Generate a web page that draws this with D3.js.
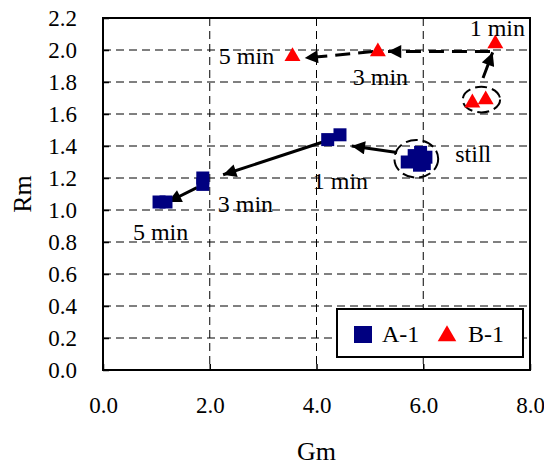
<!DOCTYPE html>
<html><head><meta charset="utf-8">
<script src="https://cdn.jsdelivr.net/npm/d3@7"></script>
<style>body{margin:0;background:#fff}svg{display:block}text{font-family:"Liberation Serif","Times New Roman",serif;fill:#000}</style>
</head><body>
<script>
// Data
const aGm = [1.05, 1.18, 1.87, 1.87, 4.21, 4.44, 5.70, 5.83, 5.95, 6.05, 5.93, 6.02];
const aRm = [1.05, 1.05, 1.16, 1.20, 1.44, 1.47, 1.30, 1.34, 1.36, 1.33, 1.28, 1.29];
const bGm = [3.55, 5.15, 7.35, 6.92, 7.17];
const bRm = [1.96, 1.99, 2.04, 1.67, 1.69];
// arrows: [fromGm, fromRm, toGm, toRm]
const arrowsA = [[5.51, 1.36, 4.66, 1.40], [4.12, 1.425, 2.25, 1.22], [1.76, 1.14, 1.22, 1.05]];
const arrowsB = [[7.12, 1.825, 7.30, 1.985], [7.25, 1.99, 5.34, 1.99], [5.06, 1.99, 3.78, 1.95]];
const ellipses = [{gm: 5.87, rm: 1.32, rgm: 0.41, rrm: 0.118}, {gm: 7.09, rm: 1.69, rgm: 0.35, rrm: 0.08}];
const labels = [
  {t: "still", gm: 6.6, rm: 1.30}, {t: "1 min", gm: 3.93, rm: 1.13}, {t: "3 min", gm: 2.15, rm: 0.985},
  {t: "5 min", gm: 0.56, rm: 0.81}, {t: "5 min", gm: 2.17, rm: 1.91}, {t: "3 min", gm: 4.68, rm: 1.78},
  {t: "1 min", gm: 6.87, rm: 2.09}
];
const xTicks = [0, 2, 4, 6, 8];
const yTicks = [0, 0.2, 0.4, 0.6, 0.8, 1.0, 1.2, 1.4, 1.6, 1.8, 2.0, 2.2];

const W = 544, H = 466;
const L = 103, R = 530, T = 18, B = 370;
const FS = 23, LFS = 24;
const x = d3.scaleLinear().domain([0, 8]).range([L, R]);
const y = d3.scaleLinear().domain([0, 2.2]).range([B, T]);
const svg = d3.select("body").append("svg").attr("width", W).attr("height", H);

const defs = svg.append("defs");
defs.append("marker").attr("id", "ah").attr("viewBox", "0 0 10 10").attr("refX", 10).attr("refY", 5)
  .attr("markerWidth", 5).attr("markerHeight", 4.4).attr("orient", "auto").attr("markerUnits", "strokeWidth")
  .append("path").attr("d", "M0,0 L10,5 L0,10 Z").attr("fill", "#000");

// grid
const g = svg.append("g");
g.selectAll(".gx").data(xTicks.slice(1, -1)).join("line")
  .attr("x1", d => x(d)).attr("x2", d => x(d)).attr("y1", T).attr("y2", B)
  .attr("stroke", "#000").attr("stroke-width", 1).attr("stroke-dasharray", "8,5");
g.selectAll(".gy").data(yTicks.slice(1, -1)).join("line")
  .attr("y1", d => y(d)).attr("y2", d => y(d)).attr("x1", L).attr("x2", R)
  .attr("stroke", "#000").attr("stroke-width", 1).attr("stroke-dasharray", "8,5");

// axes
const xAxis = d3.axisBottom(x).tickValues(xTicks).tickSize(-6).tickPadding(27).tickFormat(d3.format(".1f"));
const yAxis = d3.axisLeft(y).tickValues(yTicks).tickSize(-6).tickPadding(26).tickFormat(d3.format(".1f"));
const ax = svg.append("g").attr("transform", `translate(0,${B})`).call(xAxis);
const ay = svg.append("g").attr("transform", `translate(${L},0)`).call(yAxis);
[ax, ay].forEach(a => {
  a.select(".domain").remove();
  a.attr("font-size", FS).attr("font-family", "Liberation Serif");
  a.selectAll("line").attr("stroke", "#000").attr("stroke-width", 1.5);
  a.selectAll("text").attr("fill", "#000");
});
svg.append("rect").attr("x", L).attr("y", T).attr("width", R - L).attr("height", B - T)
  .attr("fill", "none").attr("stroke", "#000").attr("stroke-width", 2);

svg.append("text").attr("x", x(4)).attr("y", 460).attr("text-anchor", "middle").attr("font-size", 26).text("Gm");
svg.append("text").attr("transform", `translate(31,${y(1.1)}) rotate(-90)`).attr("text-anchor", "middle").attr("font-size", 26).text("Rm");

// ellipses
svg.selectAll(".el").data(ellipses).join("ellipse")
  .attr("cx", d => x(d.gm)).attr("cy", d => y(d.rm))
  .attr("rx", d => x(d.rgm) - x(0)).attr("ry", d => y(0) - y(d.rrm))
  .attr("fill", "none").attr("stroke", "#000").attr("stroke-width", 2).attr("stroke-dasharray", "12,5");

// arrows
svg.selectAll(".aa").data(arrowsA).join("line")
  .attr("x1", d => x(d[0])).attr("y1", d => y(d[1])).attr("x2", d => x(d[2])).attr("y2", d => y(d[3]))
  .attr("stroke", "#000").attr("stroke-width", 3).attr("marker-end", "url(#ah)");
svg.selectAll(".ab").data(arrowsB).join("line")
  .attr("x1", d => x(d[0])).attr("y1", d => y(d[1])).attr("x2", d => x(d[2])).attr("y2", d => y(d[3]))
  .attr("stroke", "#000").attr("stroke-width", 3).attr("stroke-dasharray", "15,8").attr("marker-end", "url(#ah)");

// points
const sq = 13;
svg.selectAll(".pa").data(aGm.map((v, i) => [v, aRm[i]])).join("rect")
  .attr("x", d => x(d[0]) - sq / 2).attr("y", d => y(d[1]) - sq / 2).attr("width", sq).attr("height", sq)
  .attr("fill", "#000080");
const tri = d3.symbol().type(d3.symbolTriangle).size(110);
svg.selectAll(".pb").data(bGm.map((v, i) => [v, bRm[i]])).join("path")
  .attr("d", tri).attr("transform", d => `translate(${x(d[0])},${y(d[1])})`).attr("fill", "#ff0000");

// labels
svg.selectAll(".lb").data(labels).join("text")
  .attr("x", d => x(d.gm)).attr("y", d => y(d.rm)).attr("font-size", LFS).text(d => d.t);

// legend
const lg = svg.append("g");
lg.append("rect").attr("x", 337).attr("y", 309).attr("width", 186).attr("height", 48)
  .attr("fill", "#fff").attr("stroke", "#000").attr("stroke-width", 2);
lg.append("rect").attr("x", 354).attr("y", 326).attr("width", 18).attr("height", 17).attr("fill", "#000080");
lg.append("text").attr("x", 382).attr("y", 342).attr("font-size", LFS).text("A-1");
lg.append("path").attr("d", d3.symbol().type(d3.symbolTriangle).size(150)).attr("transform", "translate(447,336)").attr("fill", "#ff0000");
lg.append("text").attr("x", 468).attr("y", 342).attr("font-size", LFS).text("B-1");
</script>
</body></html>
